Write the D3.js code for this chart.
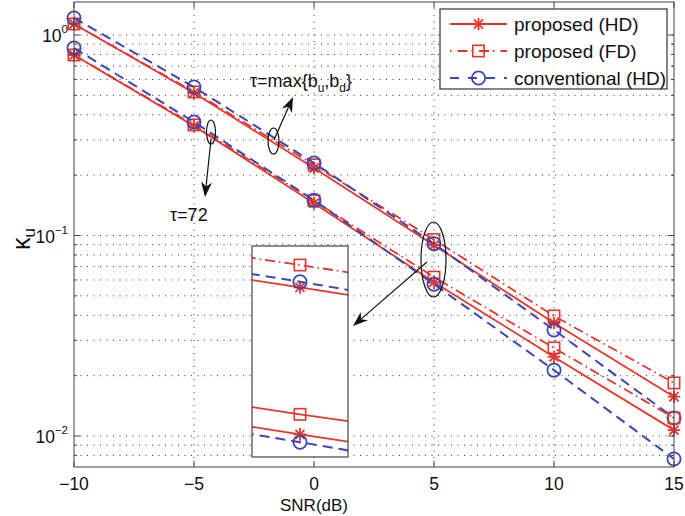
<!DOCTYPE html>
<html><head><meta charset="utf-8">
<script src="https://cdn.jsdelivr.net/npm/d3@7"></script>
<style>body{margin:0;background:#fff}svg{display:block}text{font-family:"Liberation Sans",Arial,sans-serif;fill:#111}</style>
</head><body><svg id="c" width="685" height="516"></svg>
<script>
// ---- data ----
const snr = [-10, -5, 0, 5, 10, 15];
const xTicks = [-10, -5, 0, 5, 10, 15];
const yMajorTicks = [0.01, 0.1, 1];
const yTickExp = ["−2", "−1", "0"];
// tau = max{b_u, b_d}
const hdMax   = [1.135, 0.514, 0.217, 0.0895, 0.0366, 0.0157];
const fdMax   = [1.135, 0.520, 0.225, 0.0955, 0.0397, 0.0184];
const convMax = [1.216, 0.550, 0.230, 0.0910, 0.0338, 0.0123];
// tau = 72
const hd72    = [0.795, 0.352, 0.145, 0.0585, 0.0248, 0.0107];
const fd72    = [0.795, 0.356, 0.149, 0.0620, 0.0275, 0.0123];
const conv72  = [0.861, 0.368, 0.150, 0.0572, 0.0213, 0.00768];
const legendLabels = ["proposed (HD)", "proposed (FD)", "conventional (HD)"];

const RED = "#e5362c", BLUE = "#3d46b5";
const styles = {
  hd:   {color: RED,  dash: null,            marker: "star",   width: 1.8},
  fd:   {color: RED,  dash: "10,4,1.5,4",    marker: "square", width: 1.8},
  conv: {color: BLUE, dash: "10,6",          marker: "circle", width: 2}
};
const series = [
  {v: hdMax, s: "hd"}, {v: fdMax, s: "fd"}, {v: convMax, s: "conv"},
  {v: hd72, s: "hd"}, {v: fd72, s: "fd"}, {v: conv72, s: "conv"}
];

const svg = d3.select("#c");
const L = 74, R = 674, T = 2, B = 467;
const decade = 200.5, y1px = 35;
const yTop = Math.pow(10, (y1px - T) / decade), yBot = Math.pow(10, -(B - y1px) / decade);
const x = d3.scaleLinear().domain([-10, 15]).range([L, R]);
const y = d3.scaleLog().domain([yBot, yTop]).range([B, T]);

// grid
const g = svg.append("g");
const minorVals = [];
[0.001, 0.01, 0.1, 1].forEach(d => { for (let k = 1; k <= 9; k++) { const v = d * k; if (v >= yBot && v <= yTop) minorVals.push(v); } });
g.selectAll(".hg").data(minorVals).join("line")
  .attr("x1", L).attr("x2", R).attr("y1", d => y(d)).attr("y2", d => y(d))
  .attr("stroke", "#333").attr("stroke-width", 1).attr("stroke-dasharray", "1,5.5");
g.selectAll(".vg").data(xTicks.slice(1, -1)).join("line")
  .attr("y1", T).attr("y2", B).attr("x1", d => x(d)).attr("x2", d => x(d))
  .attr("stroke", "#333").attr("stroke-width", 1).attr("stroke-dasharray", "1,5.5");

// markers
function drawMarker(sel, type, color, cx, cy, sz) {
  if (type === "circle") sel.append("circle").attr("cx", cx).attr("cy", cy).attr("r", sz * 1.05).attr("fill", "none").attr("stroke", color).attr("stroke-width", 1.8);
  else if (type === "square") sel.append("rect").attr("x", cx - sz * 0.9).attr("y", cy - sz * 0.9).attr("width", sz * 1.8).attr("height", sz * 1.8).attr("fill", "none").attr("stroke", color).attr("stroke-width", 1.6);
  else {
    const s = sz, k = sz * 0.72;
    sel.append("path").attr("d", `M${cx - s},${cy}L${cx + s},${cy}M${cx},${cy - s}L${cx},${cy + s}M${cx - k},${cy - k}L${cx + k},${cy + k}M${cx - k},${cy + k}L${cx + k},${cy - k}`)
      .attr("stroke", color).attr("stroke-width", 1.8).attr("fill", "none");
  }
}

// series
const plot = svg.append("g");
series.forEach(sr => {
  const st = styles[sr.s];
  const line = d3.line().x((d, i) => x(snr[i])).y(d => y(d));
  plot.append("path").datum(sr.v).attr("d", line).attr("fill", "none")
    .attr("stroke", st.color).attr("stroke-width", st.width).attr("stroke-dasharray", st.dash);
  sr.v.forEach((v, i) => drawMarker(plot, st.marker, st.color, x(snr[i]), y(v), 6.3));
});

// axes frame & ticks
const ax = svg.append("g").attr("stroke", "#444").attr("stroke-width", 1);
ax.append("rect").attr("x", L).attr("y", T).attr("width", R - L).attr("height", B - T).attr("fill", "none");
xTicks.forEach(t => {
  ax.append("line").attr("x1", x(t)).attr("x2", x(t)).attr("y1", B).attr("y2", B - 6);
  ax.append("line").attr("x1", x(t)).attr("x2", x(t)).attr("y1", T).attr("y2", T + 6);
});
minorVals.forEach(v => {
  const len = yMajorTicks.includes(+v.toPrecision(3)) ? 6 : 3;
  ax.append("line").attr("x1", L).attr("x2", L + len).attr("y1", y(v)).attr("y2", y(v));
  ax.append("line").attr("x1", R).attr("x2", R - len).attr("y1", y(v)).attr("y2", y(v));
});
svg.selectAll(".xt").data(xTicks).join("text").attr("x", d => x(d)).attr("y", 490)
  .attr("text-anchor", "middle").attr("font-size", 17.5).text(d => d < 0 ? "−" + (-d) : d);
yMajorTicks.forEach((v, i) => {
  const t = svg.append("text").attr("x", 68).attr("y", y(v) + 7).attr("text-anchor", "end").attr("font-size", 17.5);
  t.append("tspan").text("10");
  t.append("tspan").attr("dy", -9).attr("font-size", 11.5).text(yTickExp[i]);
});
svg.append("text").attr("x", 314).attr("y", 511).attr("text-anchor", "middle").attr("font-size", 17).text("SNR(dB)");
const yl = svg.append("text").attr("transform", "translate(30,250) rotate(-90)").attr("font-size", 25);
yl.append("tspan").text("κ");
yl.append("tspan").attr("dy", 5).attr("font-size", 17).text("u");

// inset (magnified view around SNR = 5 dB)
const IL = 252, IR = 348, IT = 246, IB = 457;
const xi = d3.scaleLinear().domain([4.88, 5.12]).range([IL, IR]);
const yi = d3.scaleLog().domain([0.0548, 0.1009]).range([IB, IT]);
svg.append("clipPath").attr("id", "ic").append("rect").attr("x", IL).attr("y", IT).attr("width", IR - IL).attr("height", IB - IT);
const inset = svg.append("g");
inset.append("rect").attr("x", IL).attr("y", IT).attr("width", IR - IL).attr("height", IB - IT).attr("fill", "#fff");
const insetDash = [null, "10,4,1.5,4", "10,6", null, null, "10,6"];
const ig = inset.append("g").attr("clip-path", "url(#ic)");
series.forEach((sr, j) => {
  const st = styles[sr.s];
  const line = d3.line().x((d, i) => xi(snr[i])).y(d => yi(d));
  ig.append("path").datum(sr.v).attr("d", line).attr("fill", "none")
    .attr("stroke", st.color).attr("stroke-width", st.width).attr("stroke-dasharray", insetDash[j]);
  drawMarker(ig, st.marker, st.color, xi(5), yi(sr.v[3]), 6.3);
});
inset.append("rect").attr("x", IL).attr("y", IT).attr("width", IR - IL).attr("height", IB - IT).attr("fill", "none").attr("stroke", "#444").attr("stroke-width", 1.2);

// annotations
const ann = svg.append("g");
function ell(cx, cy, rx, ry) { ann.append("ellipse").attr("cx", cx).attr("cy", cy).attr("rx", rx).attr("ry", ry).attr("fill", "none").attr("stroke", "#111").attr("stroke-width", 1.2); }
function arrow(x1, y1, x2, y2) {
  const a = Math.atan2(y2 - y1, x2 - x1), len = 15, w = 5.5;
  const bx = x2 - len * Math.cos(a), by = y2 - len * Math.sin(a);
  const nx = -Math.sin(a), ny = Math.cos(a);
  const mx = x2 - len * 0.7 * Math.cos(a), my = y2 - len * 0.7 * Math.sin(a);
  ann.append("line").attr("x1", x1).attr("y1", y1).attr("x2", mx).attr("y2", my).attr("stroke", "#111").attr("stroke-width", 1.2);
  ann.append("path").attr("d", `M${x2},${y2}L${bx + nx * w},${by + ny * w}L${mx},${my}L${bx - nx * w},${by - ny * w}Z`).attr("fill", "#111");
}
ell(211, 132, 4.5, 12); arrow(211, 139, 205, 197);
ell(273.5, 141, 5.5, 13); arrow(274, 140, 293, 97);
ell(433.5, 259.5, 12.5, 37.5); arrow(427, 262, 353, 326);
svg.append("text").attr("x", 170).attr("y", 221).attr("font-size", 18).text("τ=72");
const tm = svg.append("text").attr("x", 250).attr("y", 87).attr("font-size", 18);
tm.append("tspan").text("τ=max{b");
tm.append("tspan").attr("dy", 5).attr("font-size", 12).text("u");
tm.append("tspan").attr("dy", -5).text(",b");
tm.append("tspan").attr("dy", 5).attr("font-size", 12).text("d");
tm.append("tspan").attr("dy", -5).text("}");

// legend
const lg = svg.append("g");
lg.append("rect").attr("x", 440).attr("y", 9).attr("width", 227).attr("height", 80).attr("fill", "#fff").attr("stroke", "#333").attr("stroke-width", 1.2);
["hd", "fd", "conv"].forEach((k, i) => {
  const st = styles[k], yy = 24 + i * 27;
  lg.append("line").attr("x1", 450).attr("x2", 507).attr("y1", yy).attr("y2", yy).attr("stroke", st.color).attr("stroke-width", st.width).attr("stroke-dasharray", k === "fd" ? "1.5,6,10,4" : st.dash ? "9,9" : null);
  drawMarker(lg, st.marker, st.color, 478.5, yy, 6.3);
  lg.append("text").attr("x", 514).attr("y", yy + 7).attr("font-size", 19).text(legendLabels[i]);
});
</script></body></html>
